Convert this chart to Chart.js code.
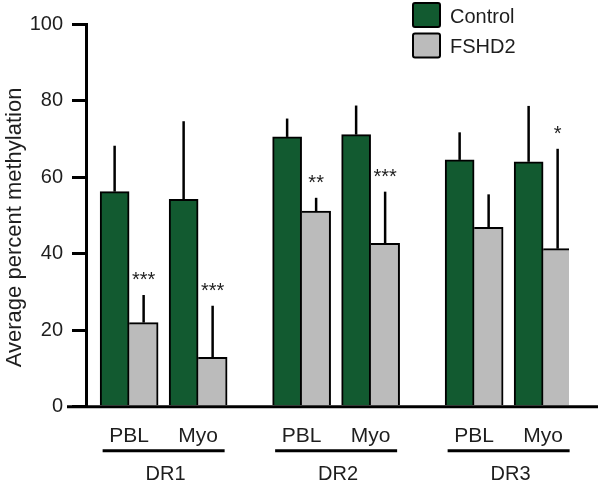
<!DOCTYPE html>
<html>
<head>
<meta charset="utf-8">
<script src="https://cdn.jsdelivr.net/npm/chart.js@4.4.0/dist/chart.umd.min.js"></script>
<style>
  html, body { margin: 0; padding: 0; background: #fff; }
</style>
</head>
<body>
<canvas id="chart" width="600" height="485"></canvas>
<script>
// Values, order: DR1 PBL, DR1 Myo, DR2 PBL, DR2 Myo, DR3 PBL, DR3 Myo
const regions = ['DR1', 'DR2', 'DR3'];
const tissues = ['PBL', 'Myo'];
const seriesNames = ['Control', 'FSHD2'];
const controlMeans = [56.2, 54.2, 70.5, 71.1, 64.5, 64.0];
const controlErrors = [12.0, 20.4, 4.8, 7.6, 7.2, 14.6];
const fshd2Means = [22.0, 12.9, 51.1, 42.7, 46.9, 41.3];
const fshd2Errors = [7.2, 13.5, 3.5, 13.5, 8.6, 26.1];
const fshd2Stars = ['***', '***', '**', '***', '', '*'];
const yTicks = [0, 20, 40, 60, 80, 100];
const yTitle = 'Average percent methylation';

const FONT = '"Liberation Sans", Arial, sans-serif';
const TEXT = '#1e1e1e';
const GREEN = '#125a30';
const GREY = '#bbbbbb';

// blank category slots give the wider gaps between the DR regions
const SLOTS = 28, LEAD = 2, REGION_STEP = 10, TISSUE_STEP = 4;
const labels = new Array(SLOTS).fill('');
const ctrlData = new Array(SLOTS).fill(null);
const fshdData = new Array(SLOTS).fill(null);
const slotIndex = {}; // slot -> position in the value arrays
regions.forEach((r, ri) => {
    tissues.forEach((t, ti) => {
        const k = ri * tissues.length + ti;
        const slot = LEAD + ri * REGION_STEP + ti * TISSUE_STEP;
        labels[slot] = t;
        ctrlData[slot] = controlMeans[k];
        fshdData[slot] = fshd2Means[k];
        slotIndex[slot] = k;
    });
});

const decorPlugin = {
    id: 'decor',
    afterDatasetsDraw(chart) {
        const { ctx, chartArea, scales: { x, y } } = chart;
        ctx.save();
        // error bars (upper only) and significance stars
        const errs = [controlErrors, fshd2Errors];
        const means = [controlMeans, fshd2Means];
        [0, 1].forEach(ds => {
            const meta = chart.getDatasetMeta(ds);
            meta.data.forEach((bar, slot) => {
                const k = slotIndex[slot];
                if (k === undefined) return;
                const top = y.getPixelForValue(means[ds][k]);
                const end = y.getPixelForValue(means[ds][k] + errs[ds][k]);
                ctx.strokeStyle = '#000';
                ctx.lineWidth = 2.5;
                ctx.beginPath();
                ctx.moveTo(bar.x, top);
                ctx.lineTo(bar.x, end);
                ctx.stroke();
                if (ds === 1 && fshd2Stars[k]) {
                    ctx.fillStyle = TEXT;
                    ctx.font = '20px ' + FONT;
                    ctx.textAlign = 'center';
                    ctx.textBaseline = 'alphabetic';
                    ctx.fillText(fshd2Stars[k], bar.x, end - 9);
                }
            });
        });

        // baseline, running past the y axis
        const y0 = y.getPixelForValue(0);
        ctx.strokeStyle = '#000';
        ctx.lineWidth = 3;
        ctx.beginPath();
        ctx.moveTo(chartArea.left - 19, y0);
        ctx.lineTo(chart.width - 2, y0);
        ctx.stroke();

        // y axis title
        ctx.save();
        ctx.translate(21, (chartArea.top + chartArea.bottom) / 2 + 12);
        ctx.rotate(-Math.PI / 2);
        ctx.fillStyle = TEXT;
        ctx.font = '22px ' + FONT;
        ctx.textAlign = 'center';
        ctx.textBaseline = 'alphabetic';
        ctx.fillText(yTitle, 0, 0);
        ctx.restore();

        // region brackets and names
        regions.forEach((r, ri) => {
            const a = x.getPixelForValue(LEAD + ri * REGION_STEP);
            const b = x.getPixelForValue(LEAD + ri * REGION_STEP + TISSUE_STEP);
            const c = (a + b) / 2;
            ctx.lineWidth = 3;
            ctx.beginPath();
            ctx.moveTo(c - 61, x.top + 44);
            ctx.lineTo(c + 61, x.top + 44);
            ctx.stroke();
            ctx.fillStyle = TEXT;
            ctx.font = '20px ' + FONT;
            ctx.textAlign = 'center';
            ctx.textBaseline = 'middle';
            ctx.fillText(r, c + 2, x.top + 68);
        });

        // legend
        const colors = [GREEN, GREY];
        seriesNames.forEach((name, i) => {
            const bx = 413, by = 3 + i * 30.5;
            ctx.fillStyle = colors[i];
            ctx.strokeStyle = '#000';
            ctx.lineWidth = 2;
            ctx.beginPath();
            ctx.roundRect(bx, by, 27, 24, 2);
            ctx.fill();
            ctx.stroke();
            ctx.fillStyle = TEXT;
            ctx.font = '20px ' + FONT;
            ctx.textAlign = 'left';
            ctx.textBaseline = 'middle';
            ctx.fillText(name, 450, by + 14);
        });
        ctx.restore();
    }
};

const ctx = document.getElementById('chart').getContext('2d');
new Chart(ctx, {
    type: 'bar',
    data: {
        labels: labels,
        datasets: [{
            label: seriesNames[0],
            data: ctrlData,
            backgroundColor: GREEN,
            borderColor: '#000',
            borderWidth: { top: 2, left: 2, right: 2, bottom: 0 },
            borderSkipped: false,
            barThickness: 29
        }, {
            label: seriesNames[1],
            data: fshdData,
            backgroundColor: GREY,
            borderColor: '#000',
            borderWidth: { top: 2, left: 0, right: 2, bottom: 0 },
            borderSkipped: false,
            barThickness: 29
        }]
    },
    options: {
        responsive: false,
        animation: false,
        layout: { padding: { top: 24, right: 31, bottom: 19, left: 0 } },
        plugins: {
            legend: { display: false },
            tooltip: { enabled: false }
        },
        scales: {
            x: {
                offset: true,
                grid: { display: false, drawTicks: false },
                border: { display: false },
                ticks: {
                    autoSkip: false,
                    maxRotation: 0,
                    padding: 17,
                    color: TEXT,
                    font: { family: FONT, size: 21 }
                }
            },
            y: {
                min: 0,
                max: 100,
                afterFit: s => { s.width = 86; },
                afterBuildTicks: s => { s.ticks = yTicks.map(v => ({ value: v })); },
                ticks: {
                    padding: 9,
                    color: TEXT,
                    font: { family: FONT, size: 20 }
                },
                grid: {
                    drawOnChartArea: false,
                    drawTicks: true,
                    tickLength: 14,
                    lineWidth: 3,
                    color: '#000'
                },
                border: { display: true, width: 3, color: '#000' }
            }
        }
    },
    plugins: [decorPlugin]
});
</script>
</body>
</html>
